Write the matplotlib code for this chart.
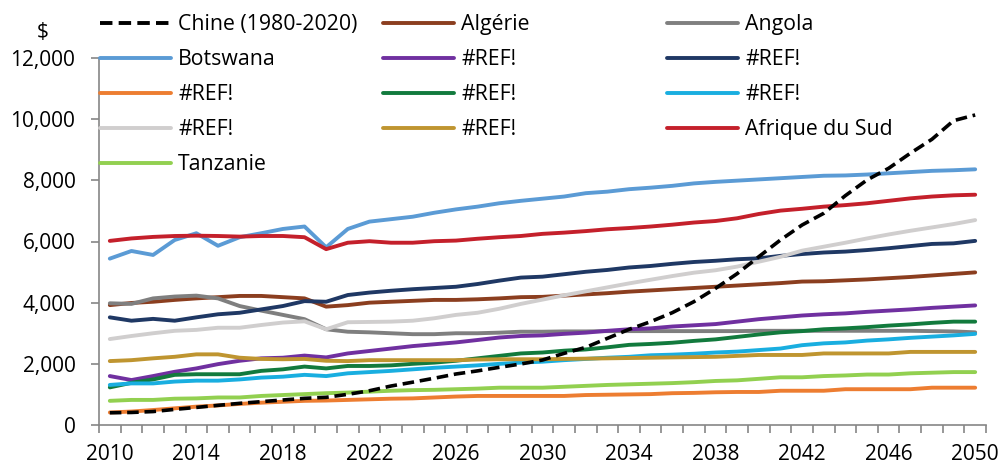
import matplotlib
matplotlib.use("Agg")
import matplotlib.pyplot as plt
from matplotlib.ticker import FuncFormatter, FixedLocator

plt.rcParams['font.family'] = ['Open Sans', 'DejaVu Sans']

years = list(range(2010, 2051))

chine = [400, 410, 440, 510, 575, 643, 708, 763, 818, 872,
         905, 1003, 1120, 1275, 1400, 1530, 1668, 1770, 1886, 1995,
         2125, 2343, 2539, 2834, 3128, 3379, 3673, 4033, 4469, 4950,
         5504, 6050, 6540, 6922, 7500, 8012, 8394, 8885, 9342, 9951, 10137]
algerie = [3920, 3990, 4030, 4090, 4140, 4180, 4220, 4220, 4180, 4140,
           3870, 3920, 4000, 4030, 4060, 4090, 4090, 4110, 4140, 4180,
           4190, 4230, 4270, 4310, 4360, 4400, 4440, 4480, 4520, 4560,
           4600, 4640, 4690, 4700, 4730, 4760, 4800, 4840, 4890, 4940, 4990]
angola = [3980, 3960, 4140, 4200, 4230, 4140, 3890, 3740, 3600, 3460,
          3130, 3050, 3030, 3000, 2970, 2970, 3000, 3000, 3020, 3050,
          3050, 3060, 3060, 3070, 3070, 3070, 3070, 3070, 3070, 3070,
          3080, 3080, 3080, 3080, 3080, 3080, 3080, 3080, 3070, 3060, 3030]
botswana = [5440, 5690, 5560, 6050, 6270, 5860, 6140, 6270, 6410, 6490,
            5810, 6410, 6650, 6730, 6810, 6940, 7050, 7140, 7250, 7330,
            7400, 7470, 7580, 7630, 7710, 7760, 7820, 7900, 7950, 7990,
            8030, 8070, 8110, 8150, 8160, 8190, 8230, 8270, 8310, 8330, 8360]
ref_purple = [1600, 1470, 1600, 1740, 1850, 1990, 2100, 2180, 2200, 2270,
              2210, 2340, 2420, 2500, 2580, 2640, 2700, 2780, 2860, 2910,
              2930, 2980, 3020, 3080, 3130, 3160, 3220, 3260, 3300, 3380,
              3460, 3520, 3580, 3620, 3650, 3700, 3740, 3780, 3830, 3870, 3910]
ref_navy = [3520, 3410, 3470, 3410, 3520, 3620, 3670, 3780, 3890, 4050,
            4030, 4250, 4330, 4390, 4440, 4480, 4520, 4610, 4720, 4820,
            4850, 4930, 5010, 5070, 5150, 5200, 5270, 5330, 5370, 5420,
            5450, 5530, 5590, 5640, 5670, 5720, 5780, 5850, 5920, 5940, 6020]
ref_orange = [410, 440, 490, 545, 600, 640, 690, 730, 760, 790,
              800, 820, 840, 860, 870, 900, 930, 950, 950, 950,
              950, 950, 980, 990, 1000, 1010, 1040, 1050, 1070, 1080,
              1080, 1120, 1120, 1120, 1170, 1170, 1170, 1170, 1220, 1220, 1220]
ref_green = [1230, 1380, 1490, 1640, 1660, 1660, 1660, 1770, 1820, 1910,
             1850, 1930, 1930, 1950, 2000, 2040, 2100, 2180, 2260, 2340,
             2370, 2430, 2470, 2540, 2620, 2650, 2690, 2750, 2800, 2880,
             2960, 3030, 3070, 3130, 3160, 3200, 3250, 3290, 3340, 3380, 3380]
ref_cyan = [1310, 1360, 1360, 1420, 1450, 1450, 1490, 1550, 1580, 1640,
            1600, 1690, 1730, 1770, 1820, 1870, 1910, 1950, 2000, 2040,
            2070, 2120, 2160, 2200, 2230, 2280, 2300, 2330, 2370, 2400,
            2450, 2500, 2610, 2670, 2700, 2760, 2800, 2850, 2890, 2930, 2980]
ref_lightgray = [2810, 2910, 3000, 3080, 3110, 3180, 3180, 3270, 3350, 3390,
                 3130, 3360, 3370, 3380, 3410, 3490, 3600, 3670, 3800, 3960,
                 4100, 4240, 4370, 4500, 4630, 4750, 4870, 4980, 5060, 5180,
                 5340, 5500, 5700, 5830, 5960, 6100, 6230, 6350, 6460, 6570, 6700]
ref_gold = [2090, 2120, 2180, 2230, 2310, 2310, 2200, 2160, 2150, 2160,
            2100, 2090, 2120, 2120, 2120, 2120, 2120, 2140, 2150, 2150,
            2150, 2160, 2170, 2180, 2190, 2200, 2210, 2220, 2230, 2260,
            2290, 2290, 2290, 2340, 2340, 2340, 2340, 2390, 2390, 2390, 2390]
afrique_sud = [6020, 6100, 6150, 6180, 6190, 6180, 6160, 6180, 6180, 6140,
               5750, 5960, 6010, 5960, 5960, 6010, 6030, 6090, 6140, 6180,
               6250, 6290, 6340, 6400, 6440, 6490, 6550, 6620, 6670, 6760,
               6900, 7010, 7070, 7140, 7190, 7250, 7330, 7410, 7470, 7510, 7530]
tanzanie = [790, 820, 820, 860, 870, 900, 900, 950, 980, 1010,
            1040, 1060, 1090, 1120, 1140, 1150, 1170, 1190, 1220, 1220,
            1220, 1250, 1280, 1310, 1330, 1350, 1370, 1400, 1440, 1460,
            1510, 1560, 1560, 1600, 1620, 1650, 1650, 1690, 1710, 1730, 1730]

y_ticks = [0, 2000, 4000, 6000, 8000, 10000, 12000]
x_label_years = [2010, 2014, 2018, 2022, 2026, 2030, 2034, 2038, 2042, 2046, 2050]

# (label, data, color) in reference legend row order
series = [
    ("Chine (1980-2020)", chine, "#000000"),
    ("Algérie", algerie, "#8B3E1F"),
    ("Angola", angola, "#7F7F7F"),
    ("Botswana", botswana, "#5B9BD5"),
    ("#REF!", ref_purple, "#7030A0"),
    ("#REF!", ref_navy, "#1F3864"),
    ("#REF!", ref_orange, "#ED7D31"),
    ("#REF!", ref_green, "#127A3D"),
    ("#REF!", ref_cyan, "#19AEE0"),
    ("#REF!", ref_lightgray, "#D0CECE"),
    ("#REF!", ref_gold, "#BF9530"),
    ("Afrique du Sud", afrique_sud, "#C4202B"),
    ("Tanzanie", tanzanie, "#92D050"),
]

fig = plt.figure(figsize=(10.02, 4.68), dpi=100)
ax = fig.add_axes([99/1002, (468-425)/468, (986-99)/1002, (425-58)/468])

lines = []
for i, (lab, data, col) in enumerate(series):
    if i == 0:
        ln, = ax.plot(years, data, color=col, lw=2.6, ls=(0, (3.2, 1.6)),
                      zorder=5, label=lab, solid_capstyle='butt')
    else:
        ln, = ax.plot(years, data, color=col, lw=2.8, zorder=3 + i * 0.01,
                      label=lab, solid_capstyle='round')
    lines.append(ln)

ax.set_xlim(2009.5, 2050.5)
ax.set_ylim(0, 12000)

for s in ["top", "right"]:
    ax.spines[s].set_visible(False)
for s in ["left", "bottom"]:
    ax.spines[s].set_color("#868686")
    ax.spines[s].set_linewidth(1.2)

ax.yaxis.set_major_locator(FixedLocator(y_ticks))
ax.yaxis.set_major_formatter(FuncFormatter(lambda v, p: f"{int(v):,}"))
ax.tick_params(axis='y', which='major', length=6, width=1.2, color="#868686",
               pad=11, labelsize=15, labelcolor="#000000")

# tick marks at category boundaries, labels at category centres
ax.xaxis.set_major_locator(FixedLocator([y - 0.5 for y in years] + [2050.5]))
ax.xaxis.set_major_formatter(FuncFormatter(lambda v, p: ""))
ax.tick_params(axis='x', which='major', length=6, width=1.2, color="#868686")
ax.xaxis.set_minor_locator(FixedLocator(x_label_years))
ax.xaxis.set_minor_formatter(FuncFormatter(lambda v, p: f"{int(round(v))}"))
ax.tick_params(axis='x', which='minor', length=0, pad=14, labelsize=15,
               labelcolor="#000000")

fig.text(43/1002, 1 - 33/468, "$", fontsize=15, ha='center', va='center')

# legend: three columns at fixed x positions, entries row-wise
col_x = [100, 383, 667]
for c in range(3):
    idx = list(range(c, len(series), 3))
    leg = fig.legend([lines[i] for i in idx], [series[i][0] for i in idx],
                     loc='upper left', bbox_to_anchor=(col_x[c]/1002, 1 - 14/468),
                     bbox_transform=fig.transFigure, frameon=False, ncol=1,
                     fontsize=15.3, handlelength=3.35, handletextpad=0.33,
                     labelspacing=0.66, borderpad=0, borderaxespad=0)
    for h in leg.legend_handles:
        h.set_linewidth(2.8)

fig.savefig("out.png", dpi=100)
